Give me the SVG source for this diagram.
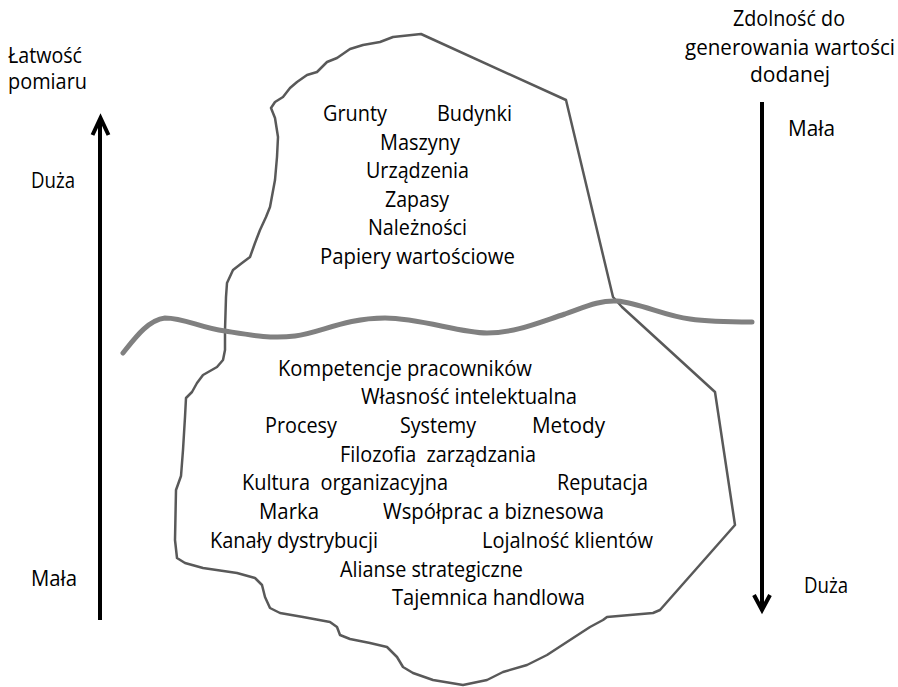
<svg xmlns="http://www.w3.org/2000/svg" width="898" height="687" viewBox="0 0 898 687">
<style>
text{font-family:"Open Sans","Noto Sans","Liberation Sans",sans-serif;font-size:21px;fill:#000;white-space:pre}
.ice{fill:none;stroke:#595959;stroke-width:2.5;stroke-linejoin:round}
.water{fill:none;stroke:#808080;stroke-width:5;stroke-linecap:round}
.axis{fill:none;stroke:#000;stroke-width:4}
.head{fill:none;stroke:#000;stroke-width:4;stroke-linejoin:miter;stroke-linecap:butt}
</style>
<rect width="898" height="687" fill="#fff"/>
<g id="iceberg">
<path class="ice" d="M622,307 L613,297 L566,100 L421,34 L393,37 L380,42 L363,45 L350,49 L337,58 L327,62 L317,72 L307,75 L297,82 L290,88 L283,97 L275,102 L271,108 L275,118 L278,137 L277,157 L275,180 L270,207 L266,217 L260,230 L255,243 L250,257 L242,263 L233,270 L227,283 L226,297 L225,330 L225,350 L223,360 L217,367 L203,375 L197,383 L192,392 L186,398 L185,417 L183,450 L181,476 L176,490 L175,540 L177,558 L185,563 L203,568 L237,573 L255,578 L262,585 L265,597 L270,608 L280,613 L303,617 L330,622 L337,627 L340,635 L350,639 L370,643 L387,647 L397,657 L403,667 L413,673 L433,680 L463,685 L487,680 L503,672 L527,665 L547,655 L570,640 L590,627 L603,620 L607,617 L653,613 L660,610 L735,525 L715,392 Z"/>
</g>
<g id="waterline">
<path class="water" d="M123,353 C135,338 148,320 165,318 C185,318 200,328 225,331 C250,335 270,339 295,336 C320,333 345,318 385,318 C420,318 460,333 487,333 C515,333 540,322 565,314 C585,307 600,300 617,301 C640,303 665,316 690,319 C710,322 730,322 752,322"/>
</g>
<g id="connectors">
<line class="axis" x1="100" y1="620" x2="100" y2="120"/>
<polyline class="head" points="92.5,135 100.5,118 108.5,135"/>
<line class="axis" x1="762" y1="102" x2="762" y2="606"/>
<polyline class="head" points="754,595 762,610 770,595"/>
</g>
<g id="axis-left">
<text x="8" y="63" textLength="74" lengthAdjust="spacingAndGlyphs">Łatwość</text>
<text x="8" y="89" textLength="79" lengthAdjust="spacingAndGlyphs">pomiaru</text>
<text x="31" y="188" textLength="44" lengthAdjust="spacingAndGlyphs">Duża</text>
<text x="31" y="586" textLength="46" lengthAdjust="spacingAndGlyphs">Mała</text>
</g>
<g id="axis-right">
<text x="733" y="26" textLength="112" lengthAdjust="spacingAndGlyphs">Zdolność do</text>
<text x="685" y="55" textLength="210" lengthAdjust="spacingAndGlyphs">generowania wartości</text>
<text x="750" y="82" textLength="80" lengthAdjust="spacingAndGlyphs">dodanej</text>
<text x="788" y="136" textLength="47" lengthAdjust="spacingAndGlyphs">Mała</text>
<text x="804" y="593" textLength="44" lengthAdjust="spacingAndGlyphs">Duża</text>
</g>
<g id="tangible">
<text x="323" y="121" textLength="64" lengthAdjust="spacingAndGlyphs">Grunty</text>
<text x="437" y="121" textLength="75" lengthAdjust="spacingAndGlyphs">Budynki</text>
<text x="380" y="150" textLength="80" lengthAdjust="spacingAndGlyphs">Maszyny</text>
<text x="366" y="178" textLength="103" lengthAdjust="spacingAndGlyphs">Urządzenia</text>
<text x="385" y="207" textLength="64" lengthAdjust="spacingAndGlyphs">Zapasy</text>
<text x="368" y="235" textLength="99" lengthAdjust="spacingAndGlyphs">Należności</text>
<text x="320" y="264" textLength="195" lengthAdjust="spacingAndGlyphs">Papiery wartościowe</text>
</g>
<g id="intangible">
<text x="278" y="376" textLength="254" lengthAdjust="spacingAndGlyphs">Kompetencje pracowników</text>
<text x="361" y="404" textLength="216" lengthAdjust="spacingAndGlyphs">Własność intelektualna</text>
<text x="265" y="433" textLength="72" lengthAdjust="spacingAndGlyphs">Procesy</text>
<text x="400" y="433" textLength="76" lengthAdjust="spacingAndGlyphs">Systemy</text>
<text x="532" y="433" textLength="73" lengthAdjust="spacingAndGlyphs">Metody</text>
<text x="340" y="462" textLength="196" lengthAdjust="spacingAndGlyphs" xml:space="preserve">Filozofia  zarządzania</text>
<text x="242" y="490" textLength="206" lengthAdjust="spacingAndGlyphs" xml:space="preserve">Kultura  organizacyjna</text>
<text x="557" y="490" textLength="91" lengthAdjust="spacingAndGlyphs">Reputacja</text>
<text x="259" y="519" textLength="60" lengthAdjust="spacingAndGlyphs">Marka</text>
<text x="383" y="519" textLength="221" lengthAdjust="spacingAndGlyphs">Współprac a biznesowa</text>
<text x="210" y="548" textLength="168" lengthAdjust="spacingAndGlyphs">Kanały dystrybucji</text>
<text x="482" y="548" textLength="171" lengthAdjust="spacingAndGlyphs">Lojalność klientów</text>
<text x="340" y="577" textLength="183" lengthAdjust="spacingAndGlyphs">Alianse strategiczne</text>
<text x="392" y="605" textLength="193" lengthAdjust="spacingAndGlyphs">Tajemnica handlowa</text>
</g>
</svg>
